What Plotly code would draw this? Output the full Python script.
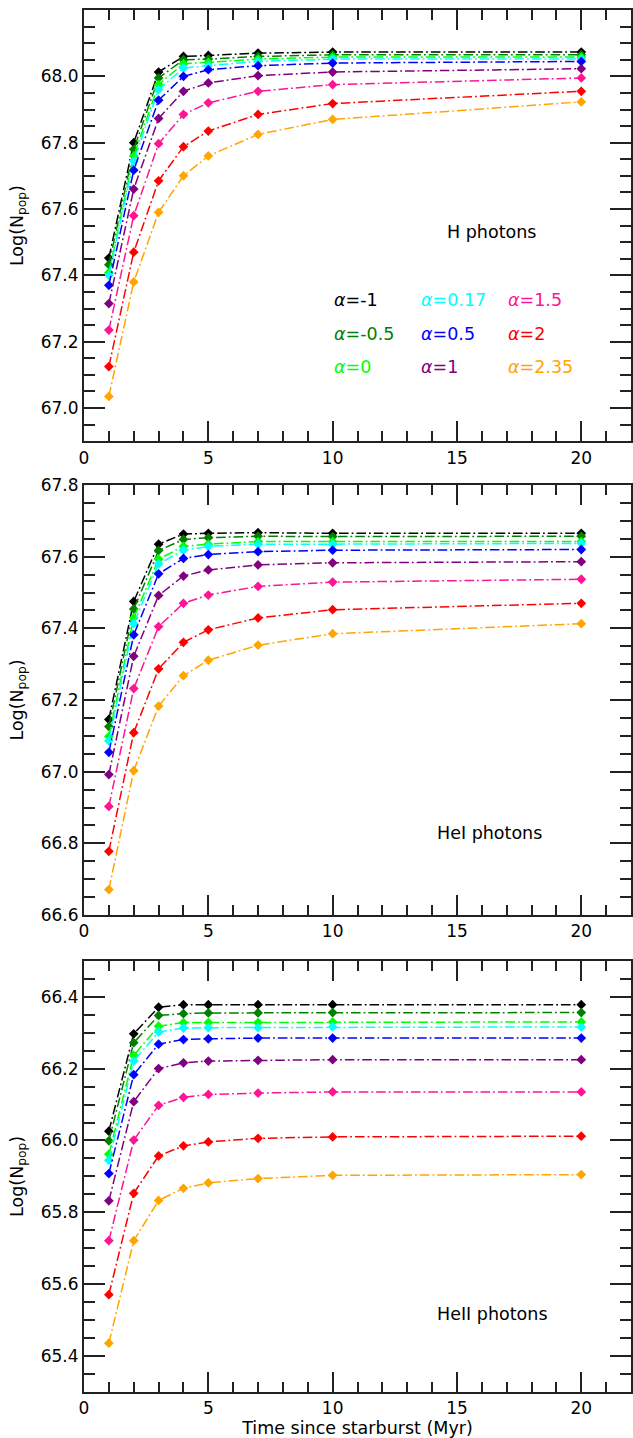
import plotly.graph_objects as go

times = [1, 2, 3, 4, 5, 7, 10, 20]
alpha_labels = ["-1", "-0.5", "0", "0.17", "0.5", "1", "1.5", "2", "2.35"]
colors = ["black", "green", "lime", "cyan", "blue", "purple", "deeppink", "red", "orange"]

H_black = [67.452, 67.800, 68.013, 68.060, 68.063, 68.070, 68.073, 68.073]
H_green = [67.432, 67.780, 67.995, 68.050, 68.052, 68.060, 68.065, 68.065]
H_lime = [67.408, 67.760, 67.975, 68.038, 68.042, 68.052, 68.058, 68.058]
H_cyan = [67.400, 67.745, 67.960, 68.025, 68.032, 68.045, 68.052, 68.052]
H_blue = [67.370, 67.717, 67.928, 68.000, 68.020, 68.032, 68.040, 68.045]
H_purple = [67.315, 67.660, 67.873, 67.955, 67.980, 68.002, 68.013, 68.023]
H_pink = [67.235, 67.580, 67.797, 67.885, 67.920, 67.955, 67.975, 67.995]
H_red = [67.125, 67.470, 67.685, 67.788, 67.835, 67.885, 67.918, 67.955]
H_orange = [67.035, 67.380, 67.590, 67.700, 67.760, 67.825, 67.870, 67.923]

HeI_black = [67.146, 67.475, 67.635, 67.663, 67.665, 67.667, 67.665, 67.665]
HeI_green = [67.126, 67.454, 67.617, 67.648, 67.653, 67.657, 67.656, 67.657]
HeI_lime = [67.098, 67.429, 67.593, 67.629, 67.635, 67.642, 67.642, 67.642]
HeI_cyan = [67.086, 67.413, 67.580, 67.618, 67.629, 67.635, 67.635, 67.637]
HeI_blue = [67.054, 67.382, 67.552, 67.595, 67.606, 67.614, 67.618, 67.620]
HeI_purple = [66.992, 67.322, 67.492, 67.546, 67.563, 67.577, 67.583, 67.586]
HeI_pink = [66.903, 67.232, 67.405, 67.470, 67.493, 67.517, 67.529, 67.537]
HeI_red = [66.778, 67.109, 67.287, 67.361, 67.396, 67.429, 67.452, 67.470]
HeI_orange = [66.671, 67.003, 67.183, 67.268, 67.311, 67.353, 67.385, 67.413]

HeII_black = [66.026, 66.297, 66.371, 66.378, 66.378, 66.378, 66.378, 66.378]
HeII_green = [65.999, 66.272, 66.348, 66.353, 66.355, 66.355, 66.356, 66.356]
HeII_lime = [65.962, 66.237, 66.318, 66.328, 66.328, 66.328, 66.330, 66.330]
HeII_cyan = [65.945, 66.221, 66.302, 66.313, 66.314, 66.314, 66.316, 66.316]
HeII_blue = [65.908, 66.183, 66.268, 66.281, 66.283, 66.285, 66.285, 66.285]
HeII_purple = [65.832, 66.108, 66.200, 66.216, 66.221, 66.223, 66.225, 66.225]
HeII_pink = [65.721, 66.001, 66.098, 66.120, 66.128, 66.132, 66.135, 66.135]
HeII_red = [65.571, 65.853, 65.957, 65.985, 65.996, 66.006, 66.010, 66.012]
HeII_orange = [65.436, 65.721, 65.833, 65.867, 65.882, 65.894, 65.903, 65.905]

H_series = [H_black, H_green, H_lime, H_cyan, H_blue, H_purple, H_pink, H_red, H_orange]
HeI_series = [HeI_black, HeI_green, HeI_lime, HeI_cyan, HeI_blue, HeI_purple, HeI_pink, HeI_red, HeI_orange]
HeII_series = [HeII_black, HeII_green, HeII_lime, HeII_cyan, HeII_blue, HeII_purple, HeII_pink, HeII_red, HeII_orange]

panel_labels = ["H photons", "HeI photons", "HeII photons"]
y_ranges = [[66.9, 68.2], [66.6, 67.8], [65.3, 66.5]]
domains = [[0.688, 1.0], [0.3451, 0.6563], [0.0, 0.3120]]

FONT = "DejaVu Sans"
DASH = "9.6px,3px,1.8px,3px"

fig = go.Figure()
panels = [H_series, HeI_series, HeII_series]
for p, series in enumerate(panels):
    xa = "x" if p == 0 else f"x{p+1}"
    ya = "y" if p == 0 else f"y{p+1}"
    for s, vals in enumerate(series):
        fig.add_trace(go.Scatter(
            x=times, y=vals, xaxis=xa, yaxis=ya, mode="lines+markers",
            line=dict(color=colors[s], width=1.5, dash=DASH),
            marker=dict(symbol="diamond", size=7.5, color=colors[s]),
            showlegend=False, hoverinfo="skip"))

axis_common = dict(
    showgrid=False, zeroline=False, showline=True, linecolor="#222", linewidth=2,
    mirror="allticks", ticks="inside", tickcolor="#222", tickwidth=1.6,
    tickfont=dict(family=FONT, size=17, color="black"),
)

layout = dict(
    width=633, height=1438, plot_bgcolor="white", paper_bgcolor="white",
    margin=dict(l=84, r=0, t=4, b=46),
    font=dict(family=FONT, size=17, color="black"),
    showlegend=False,
)
for p in range(3):
    xk = "xaxis" if p == 0 else f"xaxis{p+1}"
    yk = "yaxis" if p == 0 else f"yaxis{p+1}"
    xa = "x" if p == 0 else f"x{p+1}"
    ya = "y" if p == 0 else f"y{p+1}"
    xdict = dict(axis_common, range=[0, 22], dtick=5, tick0=0, ticklen=20,
                 minor=dict(dtick=1, ticklen=10, ticks="inside", tickcolor="#222", tickwidth=1.6),
                 anchor=ya, domain=[0, 1])
    if p == 2:
        xdict["title"] = dict(text="Time since starburst (Myr)", font=dict(family=FONT, size=17.5), standoff=0)
    ydict = dict(axis_common, range=y_ranges[p], dtick=0.2, tick0=0, ticklen=21, tickformat=".1f",
                 minor=dict(dtick=0.05, ticklen=11, ticks="inside", tickcolor="#222", tickwidth=1.6),
                 anchor=xa, domain=domains[p],
                 title=dict(text="Log(N<sub>pop</sub>)", font=dict(family=FONT, size=17.5), standoff=13))
    layout[xk] = xdict
    layout[yk] = ydict

fig.update_layout(**layout)

# panel labels
label_pos = [(14.5, 67.53, "x", "y"), (14.1, 66.83, "x2", "y2"), (14.1, 65.516, "x3", "y3")]
for (lx, ly, xr, yr), txt in zip(label_pos, panel_labels):
    fig.add_annotation(x=lx, y=ly, xref=xr, yref=yr, text=txt, showarrow=False,
                       xanchor="left", yanchor="middle", font=dict(family=FONT, size=17.5, color="black"))

# alpha legend text
leg_x = [9.96, 13.48, 16.96]
leg_y = [67.325, 67.223, 67.124]
for i, lab in enumerate(alpha_labels):
    col = i // 3
    row = i % 3
    fig.add_annotation(x=leg_x[col], y=leg_y[row], xref="x", yref="y",
                       text=f"<i>α</i>={lab}", showarrow=False, xanchor="left", yanchor="middle",
                       font=dict(family=FONT, size=17.5, color=colors[i]))

fig.write_html("out.html")
